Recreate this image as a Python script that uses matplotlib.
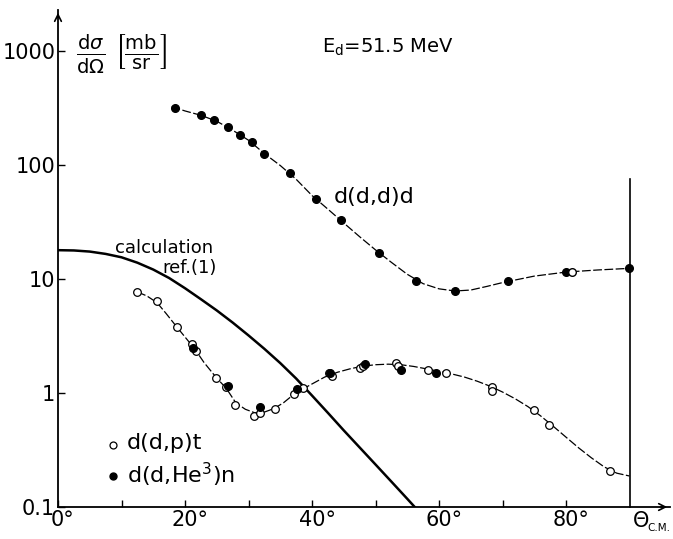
import matplotlib
matplotlib.use("Agg")
import matplotlib.pyplot as plt
import matplotlib.transforms as mtransforms
from matplotlib.ticker import FixedLocator, NullLocator, FixedFormatter

# ---- data ----
# d(d,d)d elastic scattering (filled points)
dd_x = [18.5, 22.5, 24.6, 26.7, 28.6, 30.6, 32.5, 36.5, 40.6, 44.5, 50.6, 56.4, 62.5, 70.8, 80.0, 89.9]
dd_y = [314, 275, 248, 217, 182, 158, 124, 84.5, 50, 33, 16.8, 9.6, 7.9, 9.6, 11.5, 12.4]
dd_open_x = [80.9]
dd_open_y = [11.6]
# dashed fit through d(d,d)d
ddfit_x = [17.9, 20, 22.5, 25, 27.5, 30, 32.5, 35, 37.5, 40, 42.5, 45, 47.5, 50, 52.5, 55,
           57.5, 60, 62.5, 65, 67.5, 70, 75, 80, 85, 90]
ddfit_y = [325, 298, 273, 242, 202, 165, 126, 99, 75, 54, 41, 31, 23.5, 18, 14, 11,
           9.1, 8.2, 7.85, 8.0, 8.6, 9.3, 10.6, 11.5, 12.0, 12.4]

# d(d,p)t (open circles)
pt_x = [12.5, 15.6, 18.7, 21.1, 21.8, 24.9, 26.5, 27.9, 30.8, 31.8, 34.1, 37.2, 38.6, 42.6, 43.2,
        47.6, 48.1, 53.3, 53.6, 58.3, 61.1, 68.3, 68.3, 75.0, 77.4, 87.0]
pt_y = [7.7, 6.4, 3.8, 2.67, 2.35, 1.35, 1.14, 0.785, 0.63, 0.67, 0.73, 0.98, 1.10, 1.49, 1.41,
        1.65, 1.73, 1.85, 1.73, 1.59, 1.51, 1.14, 1.04, 0.71, 0.52, 0.207]
# d(d,He3)n (filled circles)
he_x = [21.3, 26.7, 31.8, 37.6, 42.8, 48.3, 54.0, 59.6]
he_y = [2.47, 1.15, 0.76, 1.08, 1.51, 1.80, 1.59, 1.49]
# dashed fit through d(d,p)t / d(d,He3)n
ptfit_x = [12.5, 14, 15.6, 17, 18.7, 20, 21.5, 23, 25, 26.5, 28, 29.5, 31, 32.5, 34, 35.5, 37,
           38.5, 40, 42, 44, 46, 48, 50, 52, 54, 56, 58, 60, 62, 64, 66, 68, 70, 72, 74, 76,
           78, 80, 82, 84, 86, 88, 90]
ptfit_y = [7.7, 7.1, 6.2, 5.0, 3.8, 3.1, 2.45, 1.85, 1.35, 1.1, 0.82, 0.72, 0.67, 0.68, 0.73,
           0.82, 0.96, 1.08, 1.2, 1.38, 1.52, 1.63, 1.72, 1.77, 1.79, 1.77, 1.71, 1.63, 1.55,
           1.47, 1.38, 1.27, 1.15, 1.02, 0.89, 0.76, 0.63, 0.51, 0.41, 0.33, 0.27, 0.225,
           0.198, 0.187]

# calculation ref.(1)
calc_x = [0, 2.5, 5, 7.5, 10, 12.5, 15, 17.5, 20, 22.5, 25, 27.5, 30, 32.5, 35, 37.5, 40,
          42.5, 45, 47.5, 50, 52.5, 55, 57.5]
calc_y = [17.9, 17.8, 17.4, 16.6, 15.5, 13.9, 12.1, 10.2, 8.3, 6.65, 5.3, 4.15, 3.2, 2.44,
          1.83, 1.34, 0.95, 0.67, 0.47, 0.333, 0.236, 0.167, 0.118, 0.083]

xticks = [0, 20, 40, 60, 80]
xtick_labels = ["0°", "20°", "40°", "60°", "80°"]
xminor = [10, 30, 50, 70]
yticks = [0.1, 1, 10, 100, 1000]
ytick_labels = ["0.1", "1", "10", "100", "1000"]

# ---- figure ----
W, H = 673, 539
fig = plt.figure(figsize=(W / 100, H / 100), dpi=100)
plt.rcParams['font.family'] = ['DejaVu Sans']

ax = fig.add_axes([58 / W, 32 / H, 612 / W, 497 / H])
ax.set_yscale('log')
ax.set_xlim(0, 612 / 6.35)
ax.set_ylim(0.1, 10 ** (497 / 114 - 1))

for s in ['top', 'right']:
    ax.spines[s].set_visible(False)
for s in ['left', 'bottom']:
    ax.spines[s].set_linewidth(1.3)

ax.xaxis.set_major_locator(FixedLocator(xticks))
ax.xaxis.set_major_formatter(FixedFormatter(xtick_labels))
ax.xaxis.set_minor_locator(FixedLocator(xminor))
ax.yaxis.set_major_locator(FixedLocator(yticks))
ax.yaxis.set_major_formatter(FixedFormatter(ytick_labels))
ax.yaxis.set_minor_locator(NullLocator())
ax.tick_params(axis='x', which='both', direction='in', length=5, width=1.0, labelsize=15, pad=2)
ax.tick_params(axis='y', which='both', direction='in', length=5, width=1.0, labelsize=15, pad=2)

# centre the digits (not the degree sign) on the ticks
offset = mtransforms.ScaledTranslation(5 / 100, 0, fig.dpi_scale_trans)
for lab in ax.get_xticklabels():
    lab.set_transform(lab.get_transform() + offset)

# arrows on axes
ax.annotate('', xy=(1.0, 0), xytext=(0.98, 0), xycoords='axes fraction',
            arrowprops=dict(arrowstyle='->', lw=1.2, color='black', mutation_scale=12))
ax.annotate('', xy=(0, 1.0), xytext=(0, 0.98), xycoords='axes fraction',
            arrowprops=dict(arrowstyle='->', lw=1.2, color='black', mutation_scale=12))

# vertical line at 90 deg
ax.plot([90, 90], [0.1, 75], color='black', lw=1.2, clip_on=False)

# curves
ax.plot(calc_x, calc_y, color='black', lw=1.8, solid_capstyle='butt', solid_joinstyle='round')
ax.plot(ddfit_x, ddfit_y, color='black', lw=0.9, dashes=(7, 2))
ax.plot(ptfit_x, ptfit_y, color='black', lw=0.9, dashes=(7, 2))

# points
ax.plot(dd_x, dd_y, 'o', color='black', ms=5.5, clip_on=False, zorder=5)
ax.plot(dd_open_x, dd_open_y, 'o', mfc='white', mec='black', mew=1.0, ms=5.5, zorder=5)
ax.plot(pt_x, pt_y, 'o', mfc='white', mec='black', mew=0.9, ms=5.5, zorder=5)
ax.plot(he_x, he_y, 'o', color='black', ms=5.5, zorder=6)

# texts
fig.text(76 / W, 1 - 54 / H,
         r'$\frac{\mathrm{d}\sigma}{\mathrm{d}\Omega}\;\left[\frac{\mathrm{mb}}{\mathrm{sr}}\right]$',
         fontsize=20, ha='left', va='center')
fig.text(322 / W, 1 - 47 / H, r'E$_{\mathrm{d}}$=51.5 MeV', fontsize=14, ha='left', va='center')
fig.text(334 / W, 1 - 197 / H, 'd(d,d)d', fontsize=16, ha='left', va='center')
fig.text(213 / W, 1 - 248 / H, 'calculation', fontsize=13, ha='right', va='center')
fig.text(217 / W, 1 - 268 / H, 'ref.(1)', fontsize=13, ha='right', va='center')

# legend-like labels
fig.text(127 / W, 1 - 443 / H, 'd(d,p)t', fontsize=16, ha='left', va='center')
fig.text(127 / W, 1 - 475 / H, r'd(d,He$^{3}$)n', fontsize=16, ha='left', va='center')
fig.lines.append(plt.Line2D([113 / W], [1 - 445 / H], marker='o', mfc='white', mec='black',
                            mew=0.9, ms=5, transform=fig.transFigure, figure=fig))
fig.lines.append(plt.Line2D([113 / W], [1 - 476 / H], marker='o', color='black',
                            ms=5, transform=fig.transFigure, figure=fig))

# axis label Theta_C.M.
fig.text(633 / W, 1 - 521 / H, 'Θ', fontsize=15, ha='left', va='center')
fig.text(647 / W, 1 - 528 / H, 'C.M.', fontsize=7.5, ha='left', va='center')

fig.savefig('out.png', dpi=100)
